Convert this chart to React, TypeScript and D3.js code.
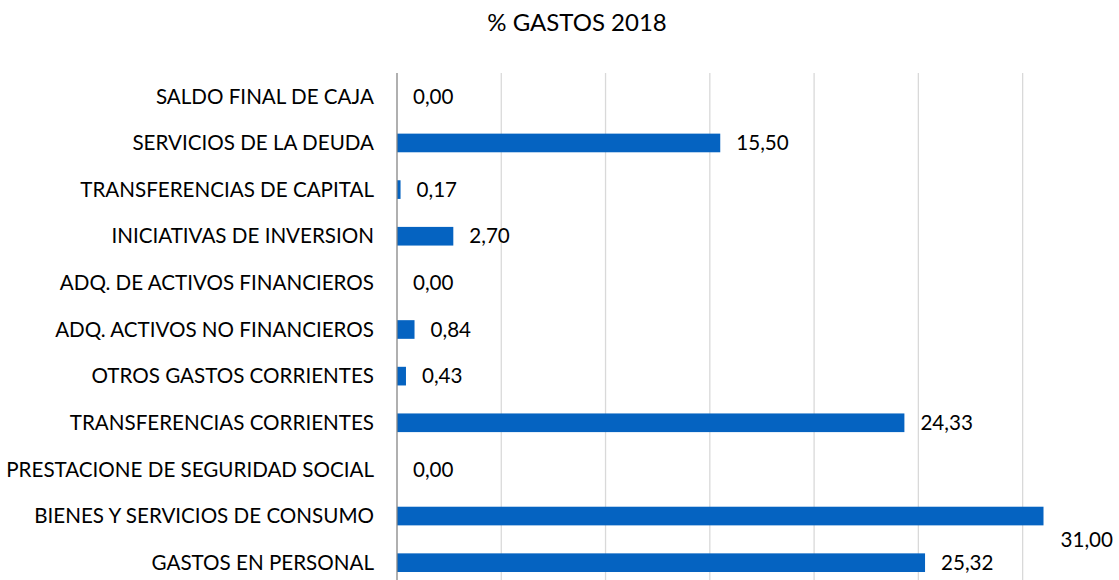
import * as d3 from 'd3';
import React, {useEffect, useRef} from 'react';

// categories top to bottom
const categories = [
  "SALDO FINAL DE CAJA",
  "SERVICIOS DE LA DEUDA",
  "TRANSFERENCIAS DE CAPITAL",
  "INICIATIVAS DE INVERSION",
  "ADQ. DE ACTIVOS FINANCIEROS",
  "ADQ. ACTIVOS NO FINANCIEROS",
  "OTROS GASTOS CORRIENTES",
  "TRANSFERENCIAS CORRIENTES",
  "PRESTACIONE DE SEGURIDAD SOCIAL",
  "BIENES Y SERVICIOS DE CONSUMO",
  "GASTOS EN PERSONAL",
];
const values = [0, 15.5, 0.17, 2.7, 0, 0.84, 0.43, 24.33, 0, 31.0, 25.32];
const gridTicks = [0, 5, 10, 15, 20, 25, 30];

const App = () => {
  const svgRef = useRef<SVGSVGElement>(null);

  useEffect(() => {
    const svg = d3.select(svgRef.current);
    svg.selectAll("*").remove();
    const font = "Lato, 'Open Sans', sans-serif";

    const x = d3.scaleLinear().domain([0, 31]).range([397, 1043.5]);
    const y = d3.scaleBand().domain(categories).range([73, 586]).paddingInner(0.6).paddingOuter(0.3);

    // title
    svg.append("text")
      .attr("x", 577).attr("y", 31)
      .attr("text-anchor", "middle")
      .style("font-family", font).style("font-size", "24px").attr("fill", "#000")
      .text("% GASTOS 2018");

    // gridlines
    svg.append("g").selectAll("line")
      .data(gridTicks.slice(1))
      .enter().append("line")
        .attr("x1", d => x(d)).attr("x2", d => x(d))
        .attr("y1", 73).attr("y2", 580)
        .attr("stroke", "#d9d9d9").attr("stroke-width", 1.3);

    // bars
    svg.append("g").selectAll("rect")
      .data(values)
      .enter().append("rect")
        .attr("x", x(0))
        .attr("y", (d, i) => y(categories[i])!)
        .attr("width", d => x(d) - x(0))
        .attr("height", y.bandwidth())
        .attr("fill", "#0563c1");

    // axis line
    svg.append("line")
      .attr("x1", x(0)).attr("x2", x(0))
      .attr("y1", 73).attr("y2", 580)
      .attr("stroke", "#868686").attr("stroke-width", 1.3);

    // category labels
    svg.append("g").selectAll("text")
      .data(categories)
      .enter().append("text")
        .attr("x", 374)
        .attr("y", d => y(d)! + y.bandwidth() / 2)
        .attr("dy", "0.35em")
        .attr("text-anchor", "end")
        .style("font-family", font).style("font-size", "20.6px").attr("fill", "#000")
        .text(d => d);

    // value labels; the one that would run off the right edge drops below its bar
    const fmt = (v: number) => v.toFixed(2).replace(".", ",");
    const over = (v: number) => x(v) > 1000;
    svg.append("g").selectAll("text")
      .data(values)
      .enter().append("text")
        .attr("x", d => (over(d) ? 1113 : x(d) + 16))
        .attr("y", (d, i) => y(categories[i])! + y.bandwidth() / 2 + (over(d) ? 24 : 0))
        .attr("dy", "0.35em")
        .attr("text-anchor", d => (over(d) ? "end" : "start"))
        .style("font-family", font).style("font-size", "20.6px").attr("fill", "#000")
        .text(d => fmt(d));
  }, []);

  return (
    <svg ref={svgRef} width="1119" height="580" style={{position: "absolute", left: 0, top: 0, background: "#fff"}}></svg>
  );
};
export default App;
